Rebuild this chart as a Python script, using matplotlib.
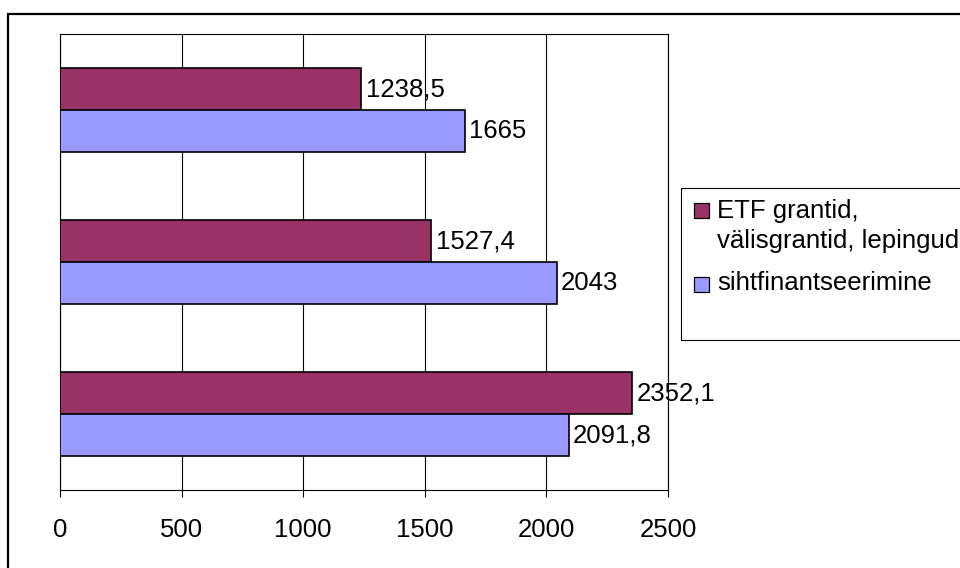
import matplotlib.pyplot as plt
from matplotlib.patches import Rectangle

plt.rcParams['font.family'] = ['Liberation Sans', 'DejaVu Sans']

# andmed (rühmad alt üles)
kategooriad = ['A', 'B', 'C']
etf = [2352.1, 1527.4, 1238.5]
siht = [2091.8, 2043, 1665]
sildid_etf = ['2352,1', '1527,4', '1238,5']
sildid_siht = ['2091,8', '2043', '1665']
seeria_nimed = ['ETF grantid,\nvälisgrantid, lepingud', 'sihtfinantseerimine']
varvid = ['#993366', '#9999FF']
xticks = [0, 500, 1000, 1500, 2000, 2500]

fs = 18.5
fig = plt.figure(figsize=(9.6, 5.68), dpi=100)
ax = fig.add_axes([60 / 960, 1 - 490 / 568, 608 / 960, 456 / 568])

h = 42 / 152
y = list(range(len(kategooriad)))
ax.barh([v + h / 2 for v in y], etf, height=h, color=varvid[0], edgecolor='black', linewidth=1.2, zorder=3)
ax.barh([v - h / 2 for v in y], siht, height=h, color=varvid[1], edgecolor='black', linewidth=1.2, zorder=3)

for i in y:
    ax.text(etf[i] + 18, i + h / 2, sildid_etf[i], va='center', ha='left', fontsize=fs, zorder=4)
    ax.text(siht[i] + 18, i - h / 2, sildid_siht[i], va='center', ha='left', fontsize=fs, zorder=4)

ax.set_xlim(0, 2500)
ax.set_ylim(-0.5, 2.5)
ax.set_xticks(xticks)
ax.set_xticklabels([str(t) for t in xticks], fontsize=fs)
ax.tick_params(axis='x', length=5, width=0.8, pad=15, direction='out')
ax.set_yticks([])
ax.grid(axis='x', color='black', linewidth=0.8, zorder=0)
for s in ax.spines.values():
    s.set_color('black')
    s.set_linewidth(0.8)

# välimine raam
fig.patches.append(Rectangle((8 / 960, -0.2), 1.2, 1 - 14 / 568 + 0.2, transform=fig.transFigure,
                             fill=False, edgecolor='black', linewidth=1.6))

# legend
fig.patches.append(Rectangle((681 / 960, 1 - 340 / 568), 0.4, 152 / 568, transform=fig.transFigure,
                             fill=False, edgecolor='black', linewidth=0.8))
marker_top = [203, 277]
for k in range(2):
    fig.patches.append(Rectangle((694 / 960, 1 - (marker_top[k] + 15) / 568), 15 / 960, 15 / 568,
                                 transform=fig.transFigure, facecolor=varvid[k],
                                 edgecolor='black', linewidth=0.9))
read = seeria_nimed[0].split('\n') + [seeria_nimed[1]]
baas = [218, 248, 290]
for txt, b in zip(read, baas):
    fig.text(717 / 960, 1 - b / 568, txt, fontsize=fs, va='baseline', ha='left')

fig.savefig('out.png', dpi=100)
